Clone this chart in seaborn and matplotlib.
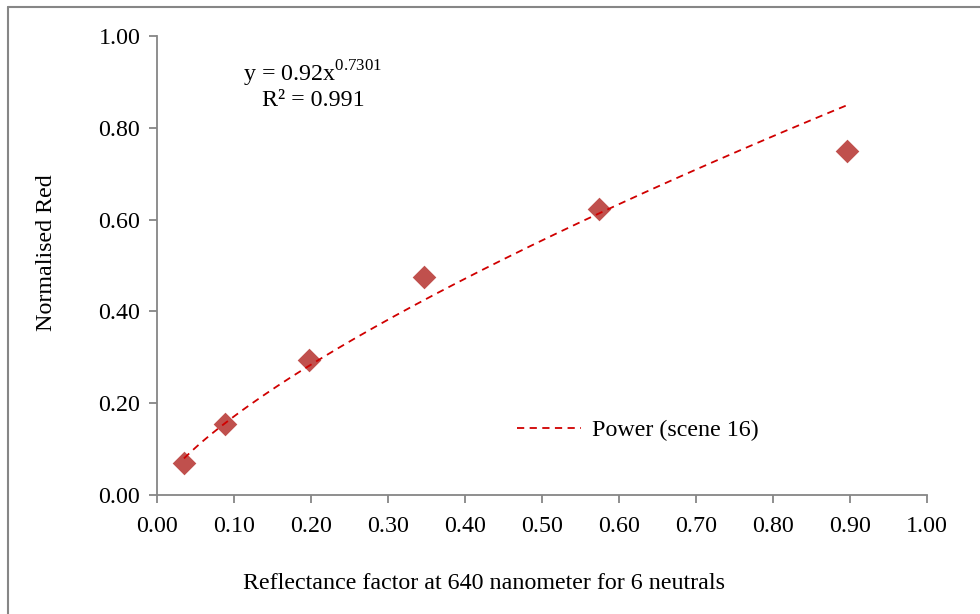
import numpy as np
import pandas as pd
import matplotlib
matplotlib.use("Agg")
import matplotlib.pyplot as plt
import seaborn as sns
from matplotlib.lines import Line2D

# Measured neutrals: reflectance factor at 640 nm vs normalised red response
reflectance = [0.035, 0.088, 0.197, 0.347, 0.574, 0.896]
normalised_red = [0.070, 0.155, 0.294, 0.475, 0.623, 0.749]

# Power-law trendline coefficients and fit quality
coef_a = 0.92
coef_b = 0.7301
r_squared = 0.991

x_ticks = [0.0, 0.1, 0.2, 0.3, 0.4, 0.5, 0.6, 0.7, 0.8, 0.9, 1.0]
y_ticks = [0.0, 0.2, 0.4, 0.6, 0.8, 1.0]

sns.set_theme(style="white")
plt.rcParams["font.family"] = ["Liberation Serif", "DejaVu Serif"]
plt.rcParams["mathtext.fontset"] = "custom"
plt.rcParams["mathtext.rm"] = "Liberation Serif"
plt.rcParams["text.color"] = "black"

FS = 17.3

df = pd.DataFrame({"x": reflectance, "y": normalised_red})

fig = plt.figure(figsize=(9.8, 6.14), dpi=100)
ax = fig.add_axes([0.1602, 0.1938, 0.7857, 0.7476])

grey = "#868686"
marker_col = "#C0504D"
trend_col = "#D00000"

# trendline evaluated over the data range
xs = np.linspace(min(reflectance), max(reflectance), 200)
ax.plot(xs, coef_a * xs ** coef_b, color=trend_col, lw=1.3,
        dashes=(4, 3), zorder=3)

sns.scatterplot(data=df, x="x", y="y", marker="D", s=145, color=marker_col,
                edgecolor=marker_col, linewidth=0, ax=ax, zorder=2, legend=False)

ax.set_xlim(0, 1.0)
ax.set_ylim(0, 1.0)
ax.set_xticks(x_ticks)
ax.set_yticks(y_ticks)
ax.set_xticklabels([f"{v:.2f}" for v in x_ticks])
ax.set_yticklabels([f"{v:.2f}" for v in y_ticks])
ax.tick_params(axis="both", which="both", direction="out", length=6,
               width=1.3, color=grey, labelsize=FS, labelcolor="black",
               bottom=True, left=True)
ax.tick_params(axis="x", pad=9)
ax.tick_params(axis="y", pad=6)
for side in ["top", "right"]:
    ax.spines[side].set_visible(False)
for side in ["left", "bottom"]:
    ax.spines[side].set_color(grey)
    ax.spines[side].set_linewidth(1.3)
ax.grid(False)

ax.set_xlabel("")
ax.set_ylabel("")
fig.text(0.494, 0.050, "Reflectance factor at 640 nanometer for 6 neutrals",
         ha="center", va="center", fontsize=FS)
fig.text(0.047, 0.589, "Normalised Red", rotation=90,
         ha="center", va="center", fontsize=FS)

# equation annotation
fig.text(0.248, 0.879, r"y = %.2fx$^{\mathrm{%.4f}}$" % (coef_a, coef_b),
         ha="left", va="center", fontsize=FS)
fig.text(0.267, 0.837, "R² = %.3f" % r_squared,
         ha="left", va="center", fontsize=FS)

handle = Line2D([], [], color=trend_col, lw=1.3, dashes=(4, 3))
fig.legend([handle], ["Power (scene 16)"], loc="center left",
           bbox_to_anchor=(0.528, 0.299), frameon=False, fontsize=FS,
           handlelength=2.65, handletextpad=0.45, borderpad=0, borderaxespad=0)

# outer frame (top and left edges visible)
fig.add_artist(Line2D([0.0082, 0.0082], [0.0, 0.989], color=grey, lw=1.5,
                      transform=fig.transFigure))
fig.add_artist(Line2D([0.0082, 1.0], [0.989, 0.989], color=grey, lw=1.5,
                      transform=fig.transFigure))

fig.savefig("out.png", dpi=100, facecolor="white")
